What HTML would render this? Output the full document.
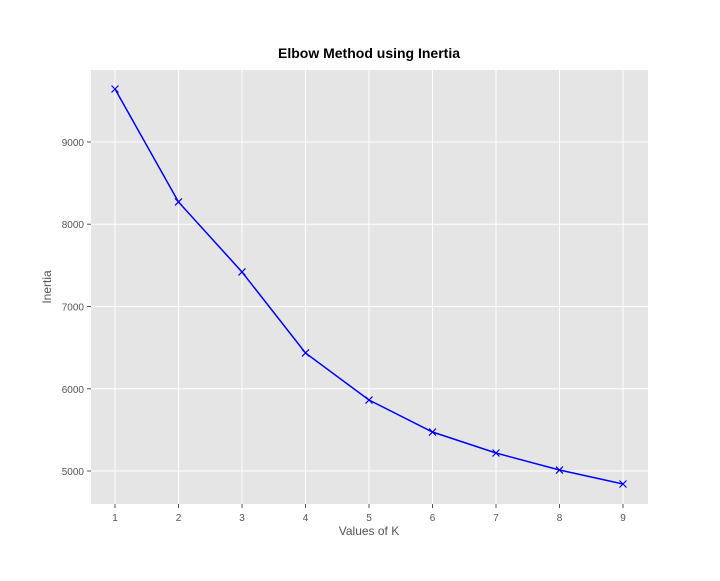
<!DOCTYPE html>
<html><head><meta charset="utf-8"><style>
body{margin:0;background:#fff;width:720px;height:576px;overflow:hidden}
text{font-family:"Liberation Sans",sans-serif}
</style></head><body>
<svg id="chart" width="720" height="576">
<text x="369" y="58" text-anchor="middle" font-size="14" font-weight="bold" fill="#000">Elbow Method using Inertia</text>
<rect x="91" y="70" width="557" height="434" fill="#e5e5e5"/>
<g id="grid"></g><g id="ticks"></g><g id="series"></g>
<text x="369" y="535" text-anchor="middle" font-size="12" fill="#555">Values of K</text>
<text transform="translate(51,287) rotate(-90)" text-anchor="middle" font-size="12" fill="#555">Inertia</text>
</svg>
<script>
const kValues=[1,2,3,4,5,6,7,8,9];
const inertia=[9644,8271,7420,6435,5863,5474,5219,5012,4842];
const xTicks=[1,2,3,4,5,6,7,8,9];
const yTicks=[5000,6000,7000,8000,9000];
const L=91,R=648,T=70,B=504;
const xMin=0.622,xMax=9.394,yMin=4599,yMax=9875;
const xs=v=>L+(v-xMin)/(xMax-xMin)*(R-L);
const ys=v=>B-(v-yMin)/(yMax-yMin)*(B-T);
const NS="http://www.w3.org/2000/svg";
function mk(tag,attrs,parent){const e=document.createElementNS(NS,tag);for(const k in attrs)e.setAttribute(k,attrs[k]);parent.appendChild(e);return e;}
const grid=document.getElementById('grid'),ticks=document.getElementById('ticks'),ser=document.getElementById('series');
xTicks.forEach(t=>{const x=xs(t);
 const g=mk('line',{x1:x,x2:x,y1:T,y2:B,stroke:'#fff','stroke-width':1},grid);
 
 
 mk('line',{x1:x,x2:x,y1:B,y2:B+4,stroke:'#555'},ticks);
 const tx=mk('text',{x:x,y:B+17,'text-anchor':'middle','font-size':10,fill:'#555'},ticks);tx.textContent=t;
 
 
});
yTicks.forEach(t=>{const y=ys(t);
 const g=mk('line',{x1:L,x2:R,y1:y,y2:y,stroke:'#fff','stroke-width':1},grid);
 
 
 mk('line',{x1:L-4,x2:L,y1:y,y2:y,stroke:'#555'},ticks);
 const tx=mk('text',{x:L-7,y:y+4,'text-anchor':'end','font-size':10,fill:'#555'},ticks);tx.textContent=t;
 
 
});
const pts=kValues.map((k,i)=>xs(k)+','+ys(inertia[i])).join(' ');
const pl=mk('polyline',{points:pts,fill:'none',stroke:'#0000ff','stroke-width':1.5},ser);


kValues.forEach((k,i)=>{const x=xs(k),y=ys(inertia[i]),s=3.5;
 const p=mk('path',{d:`M${x-s},${y-s}L${x+s},${y+s}M${x-s},${y+s}L${x+s},${y-s}`,stroke:'#0000ff','stroke-width':1.2},ser);
 
 
});
</script>
</body></html>
